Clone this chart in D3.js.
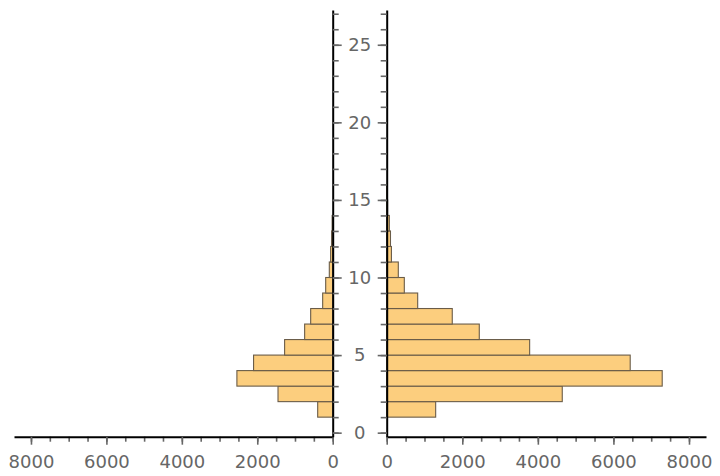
<!DOCTYPE html>
<html><head><meta charset="utf-8">
<script src="https://cdn.jsdelivr.net/npm/d3@7"></script>
<style>body{margin:0;background:#fff}svg{display:block}</style>
</head><body><svg id="c" width="720" height="476"></svg>
<script>
// Bin lower edges (each bin is 1 unit tall)
const binStarts = [1,2,3,4,5,6,7,8,9,10,11,12,13,14,15];
const leftCounts  = [398,1450,2540,2098,1275,744,584,266,186,90,55,30,15,0,0];
const rightCounts = [1296,4646,7291,6444,3783,2450,1735,820,466,307,125,100,70,25,12];
const xTickLabels = [0,2000,4000,6000,8000];
const xMinorTicks = d3.range(0, 8001, 500);
const yTickLabels = [0,5,10,15,20,25];
const yMinorTicks = d3.range(0, 28, 1);

const svg = d3.select("#c");
const y  = d3.scaleLinear().domain([-0.26, 27.24]).range([436.7, 10]);
const xR = d3.scaleLinear().domain([0, 8450]).range([386.7, 706]);
const xL = d3.scaleLinear().domain([0, 8450]).range([332.7, 14]);
const font = "DejaVu Sans, sans-serif";
const grey = "#666";

// bars
const fill = "#fcce7e", edge = "#6a5c48";
svg.append("g").selectAll("rect").data(binStarts).join("rect")
  .attr("x", (d,i)=>xL(leftCounts[i])).attr("y", d=>y(d+1))
  .attr("width", (d,i)=>xL(0)-xL(leftCounts[i])).attr("height", d=>y(d)-y(d+1))
  .attr("fill", fill).attr("stroke", edge).attr("stroke-width", 1.1)
  .attr("display",(d,i)=>leftCounts[i]>0?null:"none");
svg.append("g").selectAll("rect").data(binStarts).join("rect")
  .attr("x", xR(0)).attr("y", d=>y(d+1))
  .attr("width", (d,i)=>xR(rightCounts[i])-xR(0)).attr("height", d=>y(d)-y(d+1))
  .attr("fill", fill).attr("stroke", edge).attr("stroke-width", 1.1);

function styleAxis(g, domainShow){
  g.select(".domain").attr("stroke", domainShow ? "#000" : "none").attr("stroke-width", 2);
  g.selectAll(".tick line").attr("stroke", grey).attr("stroke-width", 1.6);
  g.selectAll(".tick text").attr("fill", grey).attr("font-family", font).attr("font-size", 18);
}
const xAxisY = 436.7;
// x axes: minor then major
[xL, xR].forEach(sc=>{
  svg.append("g").attr("transform",`translate(0,${xAxisY})`)
    .call(d3.axisBottom(sc).tickValues(xMinorTicks).tickSize(5).tickSizeOuter(0).tickFormat(""))
    .call(g=>styleAxis(g,false));
  svg.append("g").attr("transform",`translate(0,${xAxisY})`)
    .call(d3.axisBottom(sc).tickValues(xTickLabels).tickSize(8).tickSizeOuter(0).tickPadding(11).tickFormat(d3.format("d")))
    .call(g=>styleAxis(g,true));
});

// y axes
svg.append("g").attr("transform",`translate(${xL(0)},0)`)
  .call(d3.axisRight(y).tickValues(yMinorTicks).tickSize(6).tickSizeOuter(0).tickFormat(""))
  .call(g=>styleAxis(g,true));
svg.append("g").attr("transform",`translate(${xL(0)},0)`)
  .call(d3.axisRight(y).tickValues(yTickLabels).tickSize(9).tickSizeOuter(0).tickFormat(""))
  .call(g=>styleAxis(g,false));
svg.append("g").attr("transform",`translate(${xR(0)},0)`)
  .call(d3.axisLeft(y).tickValues(yMinorTicks).tickSize(6).tickSizeOuter(0).tickFormat(""))
  .call(g=>styleAxis(g,true));
svg.append("g").attr("transform",`translate(${xR(0)},0)`)
  .call(d3.axisLeft(y).tickValues(yTickLabels).tickSize(9).tickSizeOuter(0).tickFormat(""))
  .call(g=>styleAxis(g,false));

// y labels centered between axes
svg.append("g").selectAll("text").data(yTickLabels).join("text")
  .attr("x", (xL(0)+xR(0))/2).attr("y", d=>y(d)).attr("dy","0.35em")
  .attr("text-anchor","middle").attr("fill", grey)
  .attr("font-family", font).attr("font-size", 18).text(d=>d);
</script></body></html>
